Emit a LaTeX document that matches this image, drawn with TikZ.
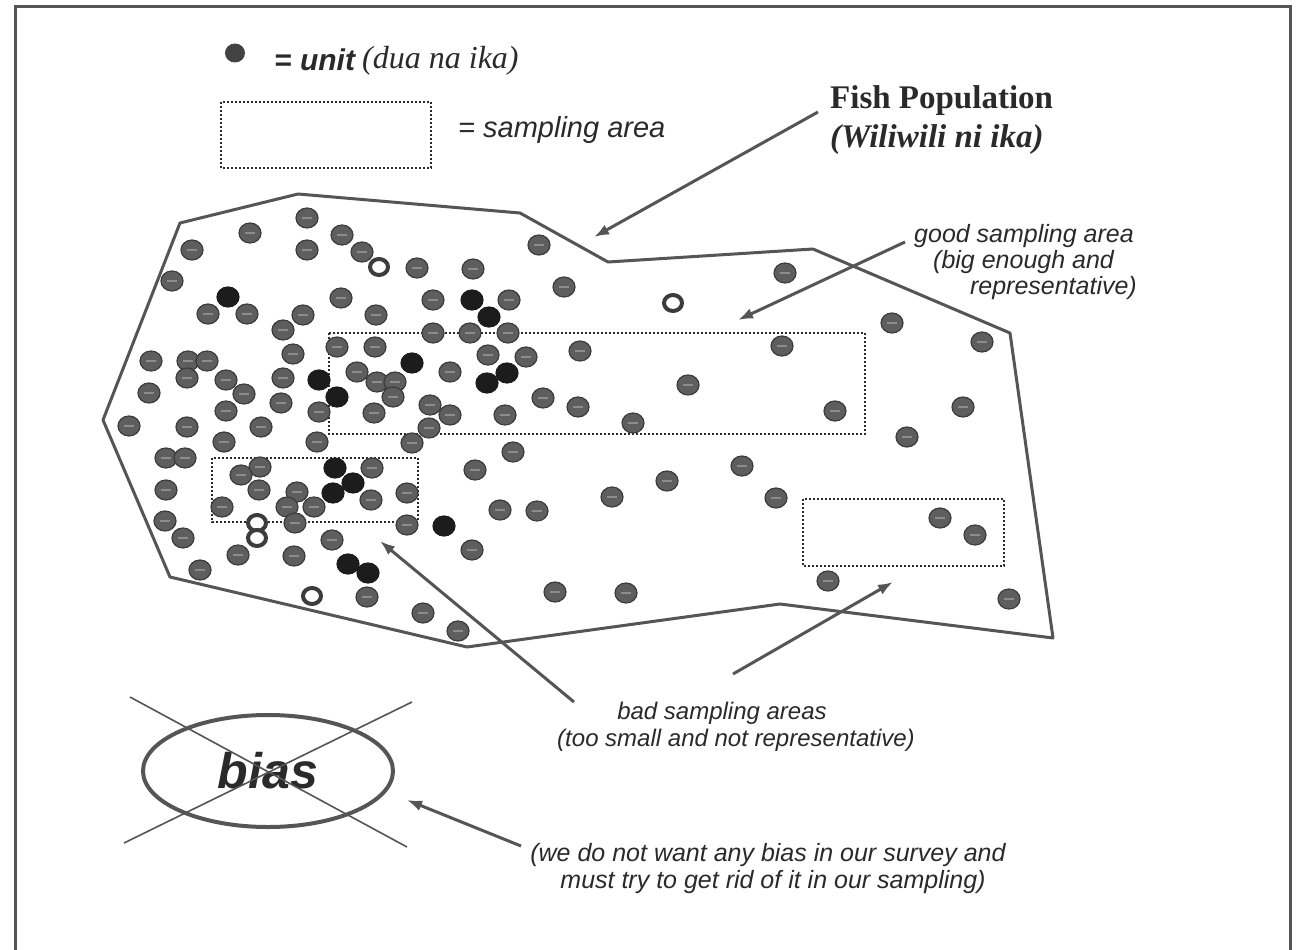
\documentclass[tikz,border=0pt]{standalone}
\usepackage{fontspec}
\setmainfont{Liberation Serif}
\setsansfont{Liberation Sans}
\usetikzlibrary{shapes.geometric,arrows.meta}
\definecolor{inkc}{HTML}{2A2A2A}
\definecolor{linec}{HTML}{555555}
\definecolor{dotc}{HTML}{5E5E5E}
\definecolor{dotedge}{HTML}{3C3C3C}
\definecolor{darkdot}{HTML}{1C1C1C}
\definecolor{hlc}{HTML}{8C8C8C}
\tikzset{
  boundary/.style={draw=linec, line width=3pt, line join=round},
  samplebox/.style={draw=inkc, dotted, line width=2pt},
  pointer/.style={draw=linec, line width=3pt, -{Latex[length=15pt,width=11pt]}},
  crossline/.style={draw=linec, line width=1.6pt},
  sanslbl/.style={inner sep=0pt, text=inkc, font=\sffamily\itshape\fontsize{24}{29}\selectfont},
  seriflbl/.style={inner sep=0pt, text=inkc, font=\rmfamily\bfseries\fontsize{33}{38}\selectfont},
  graydot/.style={fill=dotc, draw=dotedge, line width=1.2pt},
  blackdot/.style={fill=darkdot, draw=darkdot, line width=1.2pt},
  ringdot/.style={fill=white, draw=dotedge, line width=4pt},
}
\begin{document}
\begin{tikzpicture}[x=1pt,y=-1pt]
\useasboundingbox (0,0) rectangle (1296,950);
\fill[white] (0,0) rectangle (1296,950);
% frame
\draw[linec, line width=3pt] (15,952) -- (15,7) -- (1290,7) -- (1290,952);

% legend
\fill[dotc!70!black] (235,53) ellipse [x radius=10pt, y radius=9.5pt];
\node[anchor=west, inner sep=0pt, text=inkc, font=\sffamily\bfseries\itshape\fontsize{30}{34}\selectfont] (unitlbl) at (274,60) {= unit};
\node[anchor=west, inner sep=0pt, text=inkc, font=\rmfamily\itshape\fontsize{32}{36}\selectfont] (unitlocal) at (362,61) {(dua na ika)};
\draw[samplebox] (221,102) rectangle (431,168);
\node[sanslbl, anchor=west, font=\sffamily\itshape\fontsize{29}{34}\selectfont] (arealbl) at (458,130) {= sampling area};

% titles
\node[seriflbl, anchor=west] (fishlbl) at (830,101) {Fish Population};
\node[seriflbl, anchor=west, font=\rmfamily\bfseries\itshape\fontsize{33}{38}\selectfont] (fishlocal) at (830,140) {(Wiliwili ni ika)};

% population boundary
\draw[boundary] (298,194) -- (520,213) -- (608,262) -- (813,249) -- (1010,333) -- (1053,638) -- (780,604) -- (467,647) -- (170,577) -- (103,420) -- (180,223) -- cycle;

% sampling areas
\draw[samplebox] (329,333) rectangle (865,434);
\draw[samplebox] (212,458) rectangle (418,522);
\draw[samplebox] (803,499) rectangle (1004,566);

% units
\foreach \x/\y in {307/218,250/233,342/235,192/250,307/250,362/252,417/268,473/269,539/245,172/281,
  208/314,247/314,341/298,303/315,376/315,433/300,509/300,283/330,433/333,470/333,508/333,293/354,
  151/361,188/361,207/361,337/347,375/347,450/372,488/355,526/357,187/378,226/380,283/378,357/372,
  377/382,395/382,543/398,149/393,244/394,281/403,393/397,226/411,319/412,374/413,430/405,450/415,
  505/415,129/426,187/427,261/427,429/428,224/442,317/442,412/443,513/452,
  166/458,185/458,260/467,241/475,372/468,475/470,166/490,259/490,297/492,371/500,407/493,222/507,
  287/507,314/507,500/510,537/511,165/521,295/523,407/525,183/538,332/540,238/555,294/556,
  472/550,200/570,367/597,423/613,458/631,
  564/287,785/273,892/323,580/351,782/346,688/385,578/407,835/411,633/423,963/407,907/437,742/466,
  667/481,612/497,776/498,940/518,975/535,828/581,626/593,555/592,1009/599,982/342}
{
  \path[graydot] (\x,\y) ellipse [x radius=11pt, y radius=10pt];
  \draw[hlc, line width=2pt] (\x-5,\y) -- (\x+5,\y);
}
\foreach \x/\y in {228/297,472/300,489/317,412/363,319/380,487/383,507/373,337/397,335/468,353/483,333/493,444/526,348/564,368/573}
{
  \path[blackdot] (\x,\y) ellipse [x radius=11pt, y radius=10pt];
}
\foreach \x/\y in {379/267,312/596,673/303,257/523,257/538}
{
  \path[ringdot] (\x,\y) ellipse [x radius=9pt, y radius=8pt];
}

% good sampling area label
\node[sanslbl, anchor=west, font=\sffamily\itshape\fontsize{25}{30}\selectfont] (good1) at (914,236) {good sampling area};
\node[sanslbl, anchor=west, font=\sffamily\itshape\fontsize{25}{30}\selectfont] (good2) at (933,262) {(big enough and};
\node[sanslbl, anchor=east, font=\sffamily\itshape\fontsize{25}{30}\selectfont] (good3) at (1137,288) {representative)};

% bad sampling label
\node[sanslbl, font=\sffamily\itshape\fontsize{24}{29}\selectfont] (bad1) at (722,713) {bad sampling areas};
\node[sanslbl, font=\sffamily\itshape\fontsize{24}{29}\selectfont] (bad2) at (736,740) {(too small and not representative)};

% bias
\node[draw=linec, line width=4pt, ellipse, minimum width=250pt, minimum height=112pt, inner sep=0pt,
      text=inkc, font=\sffamily\bfseries\itshape\fontsize{50}{56}\selectfont] (biasnode) at (268,771) {bias};
\draw[crossline] (130,697) -- (407,847);
\draw[crossline] (412,702) -- (124,843);
\node[sanslbl, font=\sffamily\itshape\fontsize{25}{30}\selectfont] (why1) at (768,855) {(we do not want any bias in our survey and};
\node[sanslbl, font=\sffamily\itshape\fontsize{25}{30}\selectfont] (why2) at (773,882) {must try to get rid of it in our sampling)};

% arrow ends
\coordinate (fishfrom) at (818,112);
\coordinate (fishto) at (594,237);
\coordinate (goodfrom) at (905,242);
\coordinate (goodto) at (738,320);
\coordinate (badfromA) at (574,702);
\coordinate (badtoA) at (380,541);
\coordinate (badfromB) at (733,674);
\coordinate (badtoB) at (893,582);
\coordinate (biasfrom) at (521,846);
\coordinate (biasto) at (407,800);

\draw[pointer] (fishfrom) -- (fishto);
\draw[pointer] (goodfrom) -- (goodto);
\draw[pointer] (badfromA) -- (badtoA);
\draw[pointer] (badfromB) -- (badtoB);
\draw[pointer] (biasfrom) -- (biasto);
\end{tikzpicture}
\end{document}
